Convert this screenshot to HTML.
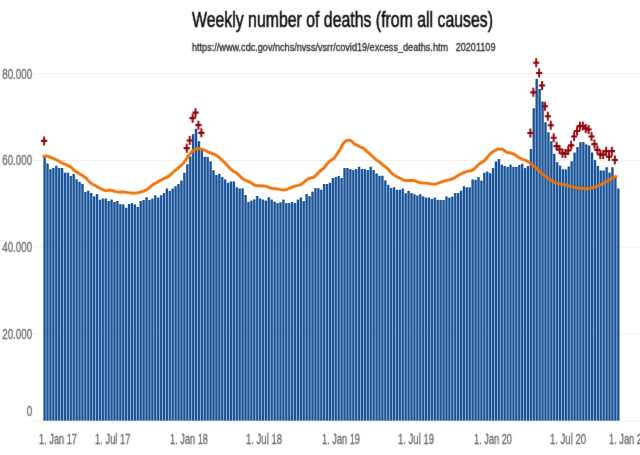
<!DOCTYPE html>
<html lang="en"><head><meta charset="utf-8"><title>Weekly number of deaths (from all causes)</title>
<style>
html,body{margin:0;padding:0;background:#fff;}
body{width:640px;height:455px;overflow:hidden;font-family:"Liberation Sans",sans-serif;}
svg{display:block;}
.ax{font-family:"Liberation Sans",sans-serif;font-size:15px;fill:#666;stroke:#666;stroke-width:0.3px;}
.ax2{font-family:"Liberation Sans",sans-serif;font-size:14.5px;fill:#666;stroke:#666;stroke-width:0.3px;}
.title{font-family:"Liberation Sans",sans-serif;font-size:22px;fill:#0a0a0a;stroke:#0a0a0a;stroke-width:0.55px;}
.sub{font-family:"Liberation Sans",sans-serif;font-size:11.5px;fill:#222;stroke:#222;stroke-width:0.3px;}
</style></head><body>
<svg width="640" height="455" viewBox="0 0 640 455">
<defs><filter id="soft" filterUnits="userSpaceOnUse" x="0" y="0" width="640" height="455" color-interpolation-filters="sRGB"><feConvolveMatrix order="3" kernelMatrix="1 8 1 8 64 8 1 8 1" divisor="100" edgeMode="duplicate" preserveAlpha="false"/></filter></defs>
<rect width="640" height="455" fill="#fff"/>
<g>

<line x1="34" x2="640" y1="73.7" y2="73.7" stroke="#f1f1f1" stroke-width="1"/>
<line x1="34" x2="640" y1="160.5" y2="160.5" stroke="#f1f1f1" stroke-width="1"/>
<line x1="34" x2="640" y1="247.2" y2="247.2" stroke="#f1f1f1" stroke-width="1"/>
<line x1="34" x2="640" y1="334.0" y2="334.0" stroke="#f1f1f1" stroke-width="1"/>
<line x1="34" x2="640" y1="420.8" y2="420.8" stroke="#f1f1f1" stroke-width="1"/>
<line x1="37" x2="37" y1="421" y2="425.5" stroke="#efefef" stroke-width="1"/>
<line x1="112.5" x2="112.5" y1="421" y2="425.5" stroke="#efefef" stroke-width="1"/>
<line x1="189" x2="189" y1="421" y2="425.5" stroke="#efefef" stroke-width="1"/>
<line x1="264.5" x2="264.5" y1="421" y2="425.5" stroke="#efefef" stroke-width="1"/>
<line x1="341" x2="341" y1="421" y2="425.5" stroke="#efefef" stroke-width="1"/>
<line x1="416.5" x2="416.5" y1="421" y2="425.5" stroke="#efefef" stroke-width="1"/>
<line x1="493" x2="493" y1="421" y2="425.5" stroke="#efefef" stroke-width="1"/>
<line x1="568.5" x2="568.5" y1="421" y2="425.5" stroke="#efefef" stroke-width="1"/>
<g filter="url(#soft)">
<text class="title" x="192" y="27" textLength="301" lengthAdjust="spacingAndGlyphs">Weekly number of deaths (from all causes)</text>
<text class="sub" x="192" y="51.2" textLength="303.5" lengthAdjust="spacingAndGlyphs" xml:space="preserve">https://www.cdc.gov/nchs/nvss/vsrr/covid19/excess_deaths.htm   20201109</text>
<text class="ax" x="2.200000000000003" y="78.6" textLength="30" lengthAdjust="spacingAndGlyphs">80.000</text>
<text class="ax" x="2.200000000000003" y="165.4" textLength="30" lengthAdjust="spacingAndGlyphs">60.000</text>
<text class="ax" x="2.200000000000003" y="252.1" textLength="30" lengthAdjust="spacingAndGlyphs">40.000</text>
<text class="ax" x="2.200000000000003" y="338.9" textLength="30" lengthAdjust="spacingAndGlyphs">20.000</text>
<text class="ax" x="26.700000000000003" y="416" textLength="5.5" lengthAdjust="spacingAndGlyphs">0</text>
<text class="ax2" x="39" y="444" textLength="38" lengthAdjust="spacingAndGlyphs">1. Jan 17</text>
<text class="ax2" x="95" y="444" textLength="35.5" lengthAdjust="spacingAndGlyphs">1. Jul 17</text>
<text class="ax2" x="170" y="444" textLength="38" lengthAdjust="spacingAndGlyphs">1. Jan 18</text>
<text class="ax2" x="246" y="444" textLength="36" lengthAdjust="spacingAndGlyphs">1. Jul 18</text>
<text class="ax2" x="322" y="444" textLength="38" lengthAdjust="spacingAndGlyphs">1. Jan 19</text>
<text class="ax2" x="398" y="444" textLength="36" lengthAdjust="spacingAndGlyphs">1. Jul 19</text>
<text class="ax2" x="474" y="444" textLength="38" lengthAdjust="spacingAndGlyphs">1. Jan 20</text>
<text class="ax2" x="550" y="444" textLength="36" lengthAdjust="spacingAndGlyphs">1. Jul 20</text>
<text class="ax2" x="609" y="444" textLength="38" lengthAdjust="spacingAndGlyphs">1. Jan 21</text>
</g>
<g fill="#1b5599" fill-opacity="0.4">
<rect x="43.14" y="157.20" width="2.912" height="263.40"/>
<rect x="46.06" y="163.80" width="2.912" height="256.80"/>
<rect x="48.97" y="169.55" width="2.912" height="251.05"/>
<rect x="51.88" y="168.30" width="2.912" height="252.30"/>
<rect x="54.79" y="166.05" width="2.912" height="254.55"/>
<rect x="57.70" y="168.30" width="2.912" height="252.30"/>
<rect x="60.62" y="168.30" width="2.912" height="252.30"/>
<rect x="63.53" y="172.90" width="2.912" height="247.70"/>
<rect x="66.44" y="172.90" width="2.912" height="247.70"/>
<rect x="69.35" y="176.30" width="2.912" height="244.30"/>
<rect x="72.26" y="174.20" width="2.912" height="246.40"/>
<rect x="75.18" y="179.55" width="2.912" height="241.05"/>
<rect x="78.09" y="182.05" width="2.912" height="238.55"/>
<rect x="81.00" y="184.20" width="2.912" height="236.40"/>
<rect x="83.91" y="192.30" width="2.912" height="228.30"/>
<rect x="86.82" y="191.05" width="2.912" height="229.55"/>
<rect x="89.74" y="193.30" width="2.912" height="227.30"/>
<rect x="92.65" y="196.70" width="2.912" height="223.90"/>
<rect x="95.56" y="194.40" width="2.912" height="226.20"/>
<rect x="98.47" y="200.05" width="2.912" height="220.55"/>
<rect x="101.38" y="198.80" width="2.912" height="221.80"/>
<rect x="104.30" y="198.80" width="2.912" height="221.80"/>
<rect x="107.21" y="201.30" width="2.912" height="219.30"/>
<rect x="110.12" y="199.80" width="2.912" height="220.80"/>
<rect x="113.03" y="202.30" width="2.912" height="218.30"/>
<rect x="115.94" y="201.30" width="2.912" height="219.30"/>
<rect x="118.86" y="204.50" width="2.912" height="216.10"/>
<rect x="121.77" y="204.70" width="2.912" height="215.90"/>
<rect x="124.68" y="208.05" width="2.912" height="212.55"/>
<rect x="127.59" y="204.30" width="2.912" height="216.30"/>
<rect x="130.50" y="203.40" width="2.912" height="217.20"/>
<rect x="133.42" y="204.70" width="2.912" height="215.90"/>
<rect x="136.33" y="207.20" width="2.912" height="213.40"/>
<rect x="139.24" y="201.30" width="2.912" height="219.30"/>
<rect x="142.15" y="200.30" width="2.912" height="220.30"/>
<rect x="145.06" y="197.55" width="2.912" height="223.05"/>
<rect x="147.98" y="200.30" width="2.912" height="220.30"/>
<rect x="150.89" y="198.80" width="2.912" height="221.80"/>
<rect x="153.80" y="195.55" width="2.912" height="225.05"/>
<rect x="156.71" y="197.80" width="2.912" height="222.80"/>
<rect x="159.62" y="195.55" width="2.912" height="225.05"/>
<rect x="162.54" y="193.40" width="2.912" height="227.20"/>
<rect x="165.45" y="188.80" width="2.912" height="231.80"/>
<rect x="168.36" y="191.30" width="2.912" height="229.30"/>
<rect x="171.27" y="188.80" width="2.912" height="231.80"/>
<rect x="174.18" y="186.55" width="2.912" height="234.05"/>
<rect x="177.10" y="184.30" width="2.912" height="236.30"/>
<rect x="180.01" y="180.90" width="2.912" height="239.70"/>
<rect x="182.92" y="173.05" width="2.912" height="247.55"/>
<rect x="185.83" y="164.50" width="2.912" height="256.10"/>
<rect x="188.74" y="156.80" width="2.912" height="263.80"/>
<rect x="191.66" y="134.50" width="2.912" height="286.10"/>
<rect x="194.57" y="129.00" width="2.912" height="291.60"/>
<rect x="197.48" y="141.50" width="2.912" height="279.10"/>
<rect x="200.39" y="149.10" width="2.912" height="271.50"/>
<rect x="203.30" y="157.10" width="2.912" height="263.50"/>
<rect x="206.22" y="157.10" width="2.912" height="263.50"/>
<rect x="209.13" y="161.60" width="2.912" height="259.00"/>
<rect x="212.04" y="170.55" width="2.912" height="250.05"/>
<rect x="214.95" y="175.30" width="2.912" height="245.30"/>
<rect x="217.86" y="174.05" width="2.912" height="246.55"/>
<rect x="220.78" y="177.40" width="2.912" height="243.20"/>
<rect x="223.69" y="179.70" width="2.912" height="240.90"/>
<rect x="226.60" y="183.05" width="2.912" height="237.55"/>
<rect x="229.51" y="181.80" width="2.912" height="238.80"/>
<rect x="232.42" y="181.80" width="2.912" height="238.80"/>
<rect x="235.34" y="187.55" width="2.912" height="233.05"/>
<rect x="238.25" y="188.70" width="2.912" height="231.90"/>
<rect x="241.16" y="188.70" width="2.912" height="231.90"/>
<rect x="244.07" y="195.30" width="2.912" height="225.30"/>
<rect x="246.98" y="202.20" width="2.912" height="218.40"/>
<rect x="249.90" y="200.90" width="2.912" height="219.70"/>
<rect x="252.81" y="199.70" width="2.912" height="220.90"/>
<rect x="255.72" y="196.30" width="2.912" height="224.30"/>
<rect x="258.63" y="198.80" width="2.912" height="221.80"/>
<rect x="261.54" y="199.90" width="2.912" height="220.70"/>
<rect x="264.46" y="200.90" width="2.912" height="219.70"/>
<rect x="267.37" y="197.55" width="2.912" height="223.05"/>
<rect x="270.28" y="199.90" width="2.912" height="220.70"/>
<rect x="273.19" y="201.90" width="2.912" height="218.70"/>
<rect x="276.10" y="203.40" width="2.912" height="217.20"/>
<rect x="279.02" y="202.55" width="2.912" height="218.05"/>
<rect x="281.93" y="199.90" width="2.912" height="220.70"/>
<rect x="284.84" y="203.40" width="2.912" height="217.20"/>
<rect x="287.75" y="203.40" width="2.912" height="217.20"/>
<rect x="290.66" y="202.20" width="2.912" height="218.40"/>
<rect x="293.58" y="203.40" width="2.912" height="217.20"/>
<rect x="296.49" y="199.90" width="2.912" height="220.70"/>
<rect x="299.40" y="197.80" width="2.912" height="222.80"/>
<rect x="302.31" y="201.30" width="2.912" height="219.30"/>
<rect x="305.22" y="194.30" width="2.912" height="226.30"/>
<rect x="308.14" y="196.55" width="2.912" height="224.05"/>
<rect x="311.05" y="191.90" width="2.912" height="228.70"/>
<rect x="313.96" y="188.40" width="2.912" height="232.20"/>
<rect x="316.87" y="188.40" width="2.912" height="232.20"/>
<rect x="319.78" y="190.05" width="2.912" height="230.55"/>
<rect x="322.70" y="184.30" width="2.912" height="236.30"/>
<rect x="325.61" y="184.30" width="2.912" height="236.30"/>
<rect x="328.52" y="183.00" width="2.912" height="237.60"/>
<rect x="331.43" y="178.30" width="2.912" height="242.30"/>
<rect x="334.34" y="177.40" width="2.912" height="243.20"/>
<rect x="337.26" y="176.20" width="2.912" height="244.40"/>
<rect x="340.17" y="178.30" width="2.912" height="242.30"/>
<rect x="343.08" y="168.30" width="2.912" height="252.30"/>
<rect x="345.99" y="168.30" width="2.912" height="252.30"/>
<rect x="348.90" y="169.40" width="2.912" height="251.20"/>
<rect x="351.82" y="170.40" width="2.912" height="250.20"/>
<rect x="354.73" y="169.40" width="2.912" height="251.20"/>
<rect x="357.64" y="167.05" width="2.912" height="253.55"/>
<rect x="360.55" y="169.40" width="2.912" height="251.20"/>
<rect x="363.46" y="169.40" width="2.912" height="251.20"/>
<rect x="366.38" y="170.40" width="2.912" height="250.20"/>
<rect x="369.29" y="167.05" width="2.912" height="253.55"/>
<rect x="372.20" y="170.40" width="2.912" height="250.20"/>
<rect x="375.11" y="173.80" width="2.912" height="246.80"/>
<rect x="378.02" y="176.05" width="2.912" height="244.55"/>
<rect x="380.94" y="176.05" width="2.912" height="244.55"/>
<rect x="383.85" y="180.70" width="2.912" height="239.90"/>
<rect x="386.76" y="185.05" width="2.912" height="235.55"/>
<rect x="389.67" y="188.30" width="2.912" height="232.30"/>
<rect x="392.58" y="187.60" width="2.912" height="233.00"/>
<rect x="395.50" y="190.05" width="2.912" height="230.55"/>
<rect x="398.41" y="190.05" width="2.912" height="230.55"/>
<rect x="401.32" y="188.80" width="2.912" height="231.80"/>
<rect x="404.23" y="193.55" width="2.912" height="227.05"/>
<rect x="407.14" y="191.05" width="2.912" height="229.55"/>
<rect x="410.06" y="193.30" width="2.912" height="227.30"/>
<rect x="412.97" y="194.55" width="2.912" height="226.05"/>
<rect x="415.88" y="195.80" width="2.912" height="224.80"/>
<rect x="418.79" y="194.55" width="2.912" height="226.05"/>
<rect x="421.70" y="196.70" width="2.912" height="223.90"/>
<rect x="424.62" y="197.90" width="2.912" height="222.70"/>
<rect x="427.53" y="197.90" width="2.912" height="222.70"/>
<rect x="430.44" y="199.20" width="2.912" height="221.40"/>
<rect x="433.35" y="197.90" width="2.912" height="222.70"/>
<rect x="436.26" y="200.20" width="2.912" height="220.40"/>
<rect x="439.18" y="200.20" width="2.912" height="220.40"/>
<rect x="442.09" y="200.20" width="2.912" height="220.40"/>
<rect x="445.00" y="196.70" width="2.912" height="223.90"/>
<rect x="447.91" y="197.90" width="2.912" height="222.70"/>
<rect x="450.82" y="196.90" width="2.912" height="223.70"/>
<rect x="453.74" y="193.30" width="2.912" height="227.30"/>
<rect x="456.65" y="193.30" width="2.912" height="227.30"/>
<rect x="459.56" y="191.00" width="2.912" height="229.60"/>
<rect x="462.47" y="186.60" width="2.912" height="234.00"/>
<rect x="465.38" y="187.60" width="2.912" height="233.00"/>
<rect x="468.30" y="187.60" width="2.912" height="233.00"/>
<rect x="471.21" y="179.70" width="2.912" height="240.90"/>
<rect x="474.12" y="180.05" width="2.912" height="240.55"/>
<rect x="477.03" y="177.40" width="2.912" height="243.20"/>
<rect x="479.94" y="180.90" width="2.912" height="239.70"/>
<rect x="482.86" y="173.05" width="2.912" height="247.55"/>
<rect x="485.77" y="171.80" width="2.912" height="248.80"/>
<rect x="488.68" y="173.40" width="2.912" height="247.20"/>
<rect x="491.59" y="168.40" width="2.912" height="252.20"/>
<rect x="494.50" y="161.80" width="2.912" height="258.80"/>
<rect x="497.42" y="159.40" width="2.912" height="261.20"/>
<rect x="500.33" y="164.90" width="2.912" height="255.70"/>
<rect x="503.24" y="166.30" width="2.912" height="254.30"/>
<rect x="506.15" y="167.20" width="2.912" height="253.40"/>
<rect x="509.06" y="164.90" width="2.912" height="255.70"/>
<rect x="511.98" y="167.20" width="2.912" height="253.40"/>
<rect x="514.89" y="167.20" width="2.912" height="253.40"/>
<rect x="517.80" y="165.30" width="2.912" height="255.30"/>
<rect x="520.71" y="164.05" width="2.912" height="256.55"/>
<rect x="523.62" y="168.40" width="2.912" height="252.20"/>
<rect x="526.54" y="166.20" width="2.912" height="254.40"/>
<rect x="529.45" y="149.30" width="2.912" height="271.30"/>
<rect x="532.36" y="108.60" width="2.912" height="312.00"/>
<rect x="535.27" y="79.05" width="2.912" height="341.55"/>
<rect x="538.18" y="89.30" width="2.912" height="331.30"/>
<rect x="541.10" y="101.80" width="2.912" height="318.80"/>
<rect x="544.01" y="122.55" width="2.912" height="298.05"/>
<rect x="546.92" y="132.55" width="2.912" height="288.05"/>
<rect x="549.83" y="141.55" width="2.912" height="279.05"/>
<rect x="552.74" y="154.05" width="2.912" height="266.55"/>
<rect x="555.66" y="162.50" width="2.912" height="258.10"/>
<rect x="558.57" y="165.80" width="2.912" height="254.80"/>
<rect x="561.48" y="169.60" width="2.912" height="251.00"/>
<rect x="564.39" y="169.80" width="2.912" height="250.80"/>
<rect x="567.30" y="166.80" width="2.912" height="253.80"/>
<rect x="570.22" y="161.60" width="2.912" height="259.00"/>
<rect x="573.13" y="152.80" width="2.912" height="267.80"/>
<rect x="576.04" y="147.30" width="2.912" height="273.30"/>
<rect x="578.95" y="142.50" width="2.912" height="278.10"/>
<rect x="581.86" y="142.30" width="2.912" height="278.30"/>
<rect x="584.78" y="144.70" width="2.912" height="275.90"/>
<rect x="587.69" y="145.80" width="2.912" height="274.80"/>
<rect x="590.60" y="152.80" width="2.912" height="267.80"/>
<rect x="593.51" y="160.40" width="2.912" height="260.20"/>
<rect x="596.42" y="166.20" width="2.912" height="254.40"/>
<rect x="599.34" y="170.80" width="2.912" height="249.80"/>
<rect x="602.25" y="170.80" width="2.912" height="249.80"/>
<rect x="605.16" y="167.50" width="2.912" height="253.10"/>
<rect x="608.07" y="172.90" width="2.912" height="247.70"/>
<rect x="610.98" y="167.50" width="2.912" height="253.10"/>
<rect x="613.90" y="176.30" width="2.912" height="244.30"/>
<rect x="616.81" y="188.70" width="2.912" height="231.90"/>
</g>
<g fill="#1b5599">
<rect x="43.55" y="156.90" width="2.1" height="263.70"/>
<rect x="46.46" y="163.50" width="2.1" height="257.10"/>
<rect x="49.37" y="169.25" width="2.1" height="251.35"/>
<rect x="52.29" y="168.00" width="2.1" height="252.60"/>
<rect x="55.20" y="165.75" width="2.1" height="254.85"/>
<rect x="58.11" y="168.00" width="2.1" height="252.60"/>
<rect x="61.02" y="168.00" width="2.1" height="252.60"/>
<rect x="63.93" y="172.60" width="2.1" height="248.00"/>
<rect x="66.85" y="172.60" width="2.1" height="248.00"/>
<rect x="69.76" y="176.00" width="2.1" height="244.60"/>
<rect x="72.67" y="173.90" width="2.1" height="246.70"/>
<rect x="75.58" y="179.25" width="2.1" height="241.35"/>
<rect x="78.49" y="181.75" width="2.1" height="238.85"/>
<rect x="81.41" y="183.90" width="2.1" height="236.70"/>
<rect x="84.32" y="192.00" width="2.1" height="228.60"/>
<rect x="87.23" y="190.75" width="2.1" height="229.85"/>
<rect x="90.14" y="193.00" width="2.1" height="227.60"/>
<rect x="93.05" y="196.40" width="2.1" height="224.20"/>
<rect x="95.97" y="194.10" width="2.1" height="226.50"/>
<rect x="98.88" y="199.75" width="2.1" height="220.85"/>
<rect x="101.79" y="198.50" width="2.1" height="222.10"/>
<rect x="104.70" y="198.50" width="2.1" height="222.10"/>
<rect x="107.61" y="201.00" width="2.1" height="219.60"/>
<rect x="110.53" y="199.50" width="2.1" height="221.10"/>
<rect x="113.44" y="202.00" width="2.1" height="218.60"/>
<rect x="116.35" y="201.00" width="2.1" height="219.60"/>
<rect x="119.26" y="204.20" width="2.1" height="216.40"/>
<rect x="122.17" y="204.40" width="2.1" height="216.20"/>
<rect x="125.09" y="207.75" width="2.1" height="212.85"/>
<rect x="128.00" y="204.00" width="2.1" height="216.60"/>
<rect x="130.91" y="203.10" width="2.1" height="217.50"/>
<rect x="133.82" y="204.40" width="2.1" height="216.20"/>
<rect x="136.73" y="206.90" width="2.1" height="213.70"/>
<rect x="139.65" y="201.00" width="2.1" height="219.60"/>
<rect x="142.56" y="200.00" width="2.1" height="220.60"/>
<rect x="145.47" y="197.25" width="2.1" height="223.35"/>
<rect x="148.38" y="200.00" width="2.1" height="220.60"/>
<rect x="151.29" y="198.50" width="2.1" height="222.10"/>
<rect x="154.21" y="195.25" width="2.1" height="225.35"/>
<rect x="157.12" y="197.50" width="2.1" height="223.10"/>
<rect x="160.03" y="195.25" width="2.1" height="225.35"/>
<rect x="162.94" y="193.10" width="2.1" height="227.50"/>
<rect x="165.85" y="188.50" width="2.1" height="232.10"/>
<rect x="168.77" y="191.00" width="2.1" height="229.60"/>
<rect x="171.68" y="188.50" width="2.1" height="232.10"/>
<rect x="174.59" y="186.25" width="2.1" height="234.35"/>
<rect x="177.50" y="184.00" width="2.1" height="236.60"/>
<rect x="180.41" y="180.60" width="2.1" height="240.00"/>
<rect x="183.33" y="172.75" width="2.1" height="247.85"/>
<rect x="186.24" y="164.20" width="2.1" height="256.40"/>
<rect x="189.15" y="156.50" width="2.1" height="264.10"/>
<rect x="192.06" y="134.20" width="2.1" height="286.40"/>
<rect x="194.97" y="128.70" width="2.1" height="291.90"/>
<rect x="197.89" y="141.20" width="2.1" height="279.40"/>
<rect x="200.80" y="148.80" width="2.1" height="271.80"/>
<rect x="203.71" y="156.80" width="2.1" height="263.80"/>
<rect x="206.62" y="156.80" width="2.1" height="263.80"/>
<rect x="209.53" y="161.30" width="2.1" height="259.30"/>
<rect x="212.45" y="170.25" width="2.1" height="250.35"/>
<rect x="215.36" y="175.00" width="2.1" height="245.60"/>
<rect x="218.27" y="173.75" width="2.1" height="246.85"/>
<rect x="221.18" y="177.10" width="2.1" height="243.50"/>
<rect x="224.09" y="179.40" width="2.1" height="241.20"/>
<rect x="227.01" y="182.75" width="2.1" height="237.85"/>
<rect x="229.92" y="181.50" width="2.1" height="239.10"/>
<rect x="232.83" y="181.50" width="2.1" height="239.10"/>
<rect x="235.74" y="187.25" width="2.1" height="233.35"/>
<rect x="238.65" y="188.40" width="2.1" height="232.20"/>
<rect x="241.57" y="188.40" width="2.1" height="232.20"/>
<rect x="244.48" y="195.00" width="2.1" height="225.60"/>
<rect x="247.39" y="201.90" width="2.1" height="218.70"/>
<rect x="250.30" y="200.60" width="2.1" height="220.00"/>
<rect x="253.21" y="199.40" width="2.1" height="221.20"/>
<rect x="256.13" y="196.00" width="2.1" height="224.60"/>
<rect x="259.04" y="198.50" width="2.1" height="222.10"/>
<rect x="261.95" y="199.60" width="2.1" height="221.00"/>
<rect x="264.86" y="200.60" width="2.1" height="220.00"/>
<rect x="267.77" y="197.25" width="2.1" height="223.35"/>
<rect x="270.69" y="199.60" width="2.1" height="221.00"/>
<rect x="273.60" y="201.60" width="2.1" height="219.00"/>
<rect x="276.51" y="203.10" width="2.1" height="217.50"/>
<rect x="279.42" y="202.25" width="2.1" height="218.35"/>
<rect x="282.33" y="199.60" width="2.1" height="221.00"/>
<rect x="285.25" y="203.10" width="2.1" height="217.50"/>
<rect x="288.16" y="203.10" width="2.1" height="217.50"/>
<rect x="291.07" y="201.90" width="2.1" height="218.70"/>
<rect x="293.98" y="203.10" width="2.1" height="217.50"/>
<rect x="296.89" y="199.60" width="2.1" height="221.00"/>
<rect x="299.81" y="197.50" width="2.1" height="223.10"/>
<rect x="302.72" y="201.00" width="2.1" height="219.60"/>
<rect x="305.63" y="194.00" width="2.1" height="226.60"/>
<rect x="308.54" y="196.25" width="2.1" height="224.35"/>
<rect x="311.45" y="191.60" width="2.1" height="229.00"/>
<rect x="314.37" y="188.10" width="2.1" height="232.50"/>
<rect x="317.28" y="188.10" width="2.1" height="232.50"/>
<rect x="320.19" y="189.75" width="2.1" height="230.85"/>
<rect x="323.10" y="184.00" width="2.1" height="236.60"/>
<rect x="326.01" y="184.00" width="2.1" height="236.60"/>
<rect x="328.93" y="182.70" width="2.1" height="237.90"/>
<rect x="331.84" y="178.00" width="2.1" height="242.60"/>
<rect x="334.75" y="177.10" width="2.1" height="243.50"/>
<rect x="337.66" y="175.90" width="2.1" height="244.70"/>
<rect x="340.57" y="178.00" width="2.1" height="242.60"/>
<rect x="343.49" y="168.00" width="2.1" height="252.60"/>
<rect x="346.40" y="168.00" width="2.1" height="252.60"/>
<rect x="349.31" y="169.10" width="2.1" height="251.50"/>
<rect x="352.22" y="170.10" width="2.1" height="250.50"/>
<rect x="355.13" y="169.10" width="2.1" height="251.50"/>
<rect x="358.05" y="166.75" width="2.1" height="253.85"/>
<rect x="360.96" y="169.10" width="2.1" height="251.50"/>
<rect x="363.87" y="169.10" width="2.1" height="251.50"/>
<rect x="366.78" y="170.10" width="2.1" height="250.50"/>
<rect x="369.69" y="166.75" width="2.1" height="253.85"/>
<rect x="372.61" y="170.10" width="2.1" height="250.50"/>
<rect x="375.52" y="173.50" width="2.1" height="247.10"/>
<rect x="378.43" y="175.75" width="2.1" height="244.85"/>
<rect x="381.34" y="175.75" width="2.1" height="244.85"/>
<rect x="384.25" y="180.40" width="2.1" height="240.20"/>
<rect x="387.17" y="184.75" width="2.1" height="235.85"/>
<rect x="390.08" y="188.00" width="2.1" height="232.60"/>
<rect x="392.99" y="187.30" width="2.1" height="233.30"/>
<rect x="395.90" y="189.75" width="2.1" height="230.85"/>
<rect x="398.81" y="189.75" width="2.1" height="230.85"/>
<rect x="401.73" y="188.50" width="2.1" height="232.10"/>
<rect x="404.64" y="193.25" width="2.1" height="227.35"/>
<rect x="407.55" y="190.75" width="2.1" height="229.85"/>
<rect x="410.46" y="193.00" width="2.1" height="227.60"/>
<rect x="413.37" y="194.25" width="2.1" height="226.35"/>
<rect x="416.29" y="195.50" width="2.1" height="225.10"/>
<rect x="419.20" y="194.25" width="2.1" height="226.35"/>
<rect x="422.11" y="196.40" width="2.1" height="224.20"/>
<rect x="425.02" y="197.60" width="2.1" height="223.00"/>
<rect x="427.93" y="197.60" width="2.1" height="223.00"/>
<rect x="430.85" y="198.90" width="2.1" height="221.70"/>
<rect x="433.76" y="197.60" width="2.1" height="223.00"/>
<rect x="436.67" y="199.90" width="2.1" height="220.70"/>
<rect x="439.58" y="199.90" width="2.1" height="220.70"/>
<rect x="442.49" y="199.90" width="2.1" height="220.70"/>
<rect x="445.41" y="196.40" width="2.1" height="224.20"/>
<rect x="448.32" y="197.60" width="2.1" height="223.00"/>
<rect x="451.23" y="196.60" width="2.1" height="224.00"/>
<rect x="454.14" y="193.00" width="2.1" height="227.60"/>
<rect x="457.05" y="193.00" width="2.1" height="227.60"/>
<rect x="459.97" y="190.70" width="2.1" height="229.90"/>
<rect x="462.88" y="186.30" width="2.1" height="234.30"/>
<rect x="465.79" y="187.30" width="2.1" height="233.30"/>
<rect x="468.70" y="187.30" width="2.1" height="233.30"/>
<rect x="471.61" y="179.40" width="2.1" height="241.20"/>
<rect x="474.53" y="179.75" width="2.1" height="240.85"/>
<rect x="477.44" y="177.10" width="2.1" height="243.50"/>
<rect x="480.35" y="180.60" width="2.1" height="240.00"/>
<rect x="483.26" y="172.75" width="2.1" height="247.85"/>
<rect x="486.17" y="171.50" width="2.1" height="249.10"/>
<rect x="489.09" y="173.10" width="2.1" height="247.50"/>
<rect x="492.00" y="168.10" width="2.1" height="252.50"/>
<rect x="494.91" y="161.50" width="2.1" height="259.10"/>
<rect x="497.82" y="159.10" width="2.1" height="261.50"/>
<rect x="500.73" y="164.60" width="2.1" height="256.00"/>
<rect x="503.65" y="166.00" width="2.1" height="254.60"/>
<rect x="506.56" y="166.90" width="2.1" height="253.70"/>
<rect x="509.47" y="164.60" width="2.1" height="256.00"/>
<rect x="512.38" y="166.90" width="2.1" height="253.70"/>
<rect x="515.29" y="166.90" width="2.1" height="253.70"/>
<rect x="518.21" y="165.00" width="2.1" height="255.60"/>
<rect x="521.12" y="163.75" width="2.1" height="256.85"/>
<rect x="524.03" y="168.10" width="2.1" height="252.50"/>
<rect x="526.94" y="165.90" width="2.1" height="254.70"/>
<rect x="529.85" y="149.00" width="2.1" height="271.60"/>
<rect x="532.77" y="108.30" width="2.1" height="312.30"/>
<rect x="535.68" y="78.75" width="2.1" height="341.85"/>
<rect x="538.59" y="89.00" width="2.1" height="331.60"/>
<rect x="541.50" y="101.50" width="2.1" height="319.10"/>
<rect x="544.41" y="122.25" width="2.1" height="298.35"/>
<rect x="547.33" y="132.25" width="2.1" height="288.35"/>
<rect x="550.24" y="141.25" width="2.1" height="279.35"/>
<rect x="553.15" y="153.75" width="2.1" height="266.85"/>
<rect x="556.06" y="162.20" width="2.1" height="258.40"/>
<rect x="558.97" y="165.50" width="2.1" height="255.10"/>
<rect x="561.89" y="169.30" width="2.1" height="251.30"/>
<rect x="564.80" y="169.50" width="2.1" height="251.10"/>
<rect x="567.71" y="166.50" width="2.1" height="254.10"/>
<rect x="570.62" y="161.30" width="2.1" height="259.30"/>
<rect x="573.53" y="152.50" width="2.1" height="268.10"/>
<rect x="576.45" y="147.00" width="2.1" height="273.60"/>
<rect x="579.36" y="142.20" width="2.1" height="278.40"/>
<rect x="582.27" y="142.00" width="2.1" height="278.60"/>
<rect x="585.18" y="144.40" width="2.1" height="276.20"/>
<rect x="588.09" y="145.50" width="2.1" height="275.10"/>
<rect x="591.01" y="152.50" width="2.1" height="268.10"/>
<rect x="593.92" y="160.10" width="2.1" height="260.50"/>
<rect x="596.83" y="165.90" width="2.1" height="254.70"/>
<rect x="599.74" y="170.50" width="2.1" height="250.10"/>
<rect x="602.65" y="170.50" width="2.1" height="250.10"/>
<rect x="605.57" y="167.20" width="2.1" height="253.40"/>
<rect x="608.48" y="172.60" width="2.1" height="248.00"/>
<rect x="611.39" y="167.20" width="2.1" height="253.40"/>
<rect x="614.30" y="176.00" width="2.1" height="244.60"/>
<rect x="617.21" y="188.40" width="2.1" height="232.20"/>
</g>
<g filter="url(#soft)">
<path d="M43.70 156.67 L45.16 156.18 L46.61 156.00 L48.07 156.37 L49.52 156.96 L50.98 157.55 L52.44 158.11 L53.89 158.68 L55.35 159.32 L56.80 160.04 L58.26 160.85 L59.72 161.71 L61.17 162.52 L62.63 163.24 L64.08 163.86 L65.54 164.44 L67.00 165.05 L68.45 165.71 L69.91 166.49 L71.36 167.57 L72.82 168.96 L74.28 170.32 L75.73 171.40 L77.19 172.32 L78.64 173.21 L80.10 174.11 L81.56 175.02 L83.01 175.98 L84.47 177.01 L85.92 178.14 L87.38 179.52 L88.84 181.16 L90.29 182.67 L91.75 183.75 L93.20 184.56 L94.66 185.33 L96.12 186.14 L97.57 186.97 L99.03 187.75 L100.48 188.50 L101.94 189.25 L103.40 189.95 L104.85 190.46 L106.31 190.64 L107.76 190.49 L109.22 190.25 L110.68 190.25 L112.13 190.56 L113.59 191.00 L115.04 191.37 L116.50 191.64 L117.96 191.84 L119.41 191.96 L120.87 191.97 L122.32 191.94 L123.78 191.96 L125.24 192.14 L126.69 192.42 L128.15 192.68 L129.60 192.84 L131.06 192.95 L132.52 193.03 L133.97 193.08 L135.43 193.04 L136.88 192.87 L138.34 192.58 L139.80 192.22 L141.25 191.82 L142.71 191.36 L144.16 190.81 L145.62 190.15 L147.08 189.33 L148.53 188.34 L149.99 187.21 L151.44 185.97 L152.90 184.72 L154.36 183.73 L155.81 182.96 L157.27 182.19 L158.72 181.35 L160.18 180.50 L161.64 179.70 L163.09 178.98 L164.55 178.29 L166.00 177.60 L167.46 176.88 L168.92 176.06 L170.37 174.97 L171.83 173.56 L173.28 172.05 L174.74 170.70 L176.20 169.56 L177.65 168.44 L179.11 167.21 L180.56 165.85 L182.02 164.45 L183.48 162.98 L184.93 161.21 L186.39 158.97 L187.84 156.64 L189.30 154.65 L190.76 153.01 L192.21 151.62 L193.67 150.40 L195.12 149.30 L196.58 148.59 L198.04 148.48 L199.49 148.74 L200.95 149.07 L202.40 149.43 L203.86 149.87 L205.32 150.47 L206.77 151.21 L208.23 151.92 L209.68 152.55 L211.14 153.12 L212.60 153.66 L214.05 154.20 L215.51 154.83 L216.96 155.72 L218.42 156.88 L219.88 158.16 L221.33 159.43 L222.79 160.73 L224.24 162.12 L225.70 163.62 L227.16 165.19 L228.61 166.81 L230.07 168.44 L231.52 169.89 L232.98 170.95 L234.44 171.72 L235.89 172.53 L237.35 173.64 L238.80 175.04 L240.26 176.55 L241.72 177.97 L243.17 179.10 L244.63 179.91 L246.08 180.50 L247.54 181.03 L249.00 181.61 L250.45 182.36 L251.91 183.33 L253.36 184.35 L254.82 185.14 L256.28 185.56 L257.73 185.71 L259.19 185.77 L260.64 185.81 L262.10 185.86 L263.56 185.93 L265.01 186.09 L266.47 186.45 L267.92 186.99 L269.38 187.56 L270.84 188.01 L272.29 188.31 L273.75 188.52 L275.20 188.70 L276.66 188.89 L278.12 189.12 L279.57 189.40 L281.03 189.68 L282.48 189.89 L283.94 189.93 L285.40 189.73 L286.85 189.31 L288.31 188.76 L289.76 188.18 L291.22 187.57 L292.68 186.93 L294.13 186.34 L295.59 185.90 L297.04 185.60 L298.50 185.33 L299.96 184.91 L301.41 184.15 L302.87 183.05 L304.32 181.82 L305.78 180.59 L307.24 179.43 L308.69 178.55 L310.15 178.06 L311.60 177.76 L313.06 177.39 L314.52 176.67 L315.97 175.42 L317.43 173.80 L318.88 172.17 L320.34 170.84 L321.80 169.79 L323.25 168.71 L324.71 167.18 L326.16 165.20 L327.62 163.27 L329.08 161.74 L330.53 160.59 L331.99 159.76 L333.44 158.81 L334.90 157.19 L336.36 155.03 L337.81 152.88 L339.27 150.75 L340.72 148.24 L342.18 145.47 L343.64 143.04 L345.09 141.38 L346.55 140.55 L348.00 140.26 L349.46 140.20 L350.92 140.59 L352.37 141.90 L353.83 143.54 L355.28 144.51 L356.74 145.03 L358.20 145.84 L359.65 146.75 L361.11 147.31 L362.56 147.80 L364.02 148.77 L365.48 150.17 L366.93 151.49 L368.39 152.63 L369.84 153.86 L371.30 155.24 L372.76 156.65 L374.21 157.99 L375.67 159.23 L377.12 160.33 L378.58 161.36 L380.04 162.46 L381.49 163.71 L382.95 165.00 L384.40 166.17 L385.86 167.20 L387.32 168.30 L388.77 169.76 L390.23 171.49 L391.68 173.12 L393.14 174.39 L394.60 175.40 L396.05 176.27 L397.51 177.03 L398.96 177.75 L400.42 178.51 L401.88 179.29 L403.33 179.93 L404.79 180.35 L406.24 180.57 L407.70 180.61 L409.16 180.53 L410.61 180.43 L412.07 180.35 L413.52 180.44 L414.98 180.82 L416.44 181.37 L417.89 181.90 L419.35 182.38 L420.80 182.76 L422.26 182.99 L423.72 183.09 L425.17 183.15 L426.63 183.21 L428.08 183.35 L429.54 183.58 L431.00 183.87 L432.45 184.11 L433.91 184.18 L435.36 184.01 L436.82 183.65 L438.28 183.18 L439.73 182.69 L441.19 182.21 L442.64 181.71 L444.10 181.21 L445.56 180.73 L447.01 180.31 L448.47 179.96 L449.92 179.62 L451.38 179.23 L452.84 178.71 L454.29 177.98 L455.75 177.07 L457.20 176.10 L458.66 175.17 L460.12 174.29 L461.57 173.49 L463.03 172.82 L464.48 172.28 L465.94 171.83 L467.40 171.42 L468.85 171.06 L470.31 170.76 L471.76 170.40 L473.22 169.67 L474.68 168.51 L476.13 167.10 L477.59 165.59 L479.04 164.16 L480.50 163.09 L481.96 162.33 L483.41 161.52 L484.87 160.25 L486.32 158.52 L487.78 156.66 L489.24 154.89 L490.69 153.33 L492.15 152.16 L493.60 151.32 L495.06 150.48 L496.52 149.63 L497.97 149.18 L499.43 149.10 L500.88 149.10 L502.34 149.28 L503.80 150.07 L505.25 151.27 L506.71 152.13 L508.16 152.56 L509.62 152.80 L511.08 153.03 L512.53 153.47 L513.99 154.20 L515.44 155.17 L516.90 156.24 L518.36 157.21 L519.81 157.99 L521.27 158.67 L522.72 159.29 L524.18 159.86 L525.64 160.43 L527.09 161.09 L528.55 161.94 L530.00 162.98 L531.46 164.15 L532.92 165.35 L534.37 166.58 L535.83 167.87 L537.28 169.22 L538.74 170.64 L540.20 172.04 L541.65 173.33 L543.11 174.52 L544.56 175.66 L546.02 176.75 L547.48 177.79 L548.93 178.79 L550.39 179.76 L551.84 180.71 L553.30 181.60 L554.76 182.35 L556.21 182.93 L557.67 183.40 L559.12 183.79 L560.58 184.09 L562.04 184.31 L563.49 184.52 L564.95 184.77 L566.40 185.11 L567.86 185.53 L569.32 186.00 L570.77 186.44 L572.23 186.82 L573.68 187.13 L575.14 187.39 L576.60 187.64 L578.05 187.85 L579.51 188.04 L580.96 188.21 L582.42 188.38 L583.88 188.53 L585.33 188.66 L586.79 188.72 L588.24 188.66 L589.70 188.43 L591.16 188.05 L592.61 187.61 L594.07 187.15 L595.52 186.69 L596.98 186.18 L598.44 185.63 L599.89 185.03 L601.35 184.38 L602.80 183.66 L604.26 182.89 L605.72 182.06 L607.17 181.17 L608.63 180.25 L610.08 179.37 L611.54 178.55 L613.00 177.76 L614.45 177.01 L615.91 176.47" fill="none" stroke="#f07108" stroke-width="2.9" stroke-linecap="round" stroke-linejoin="round"/>
<g fill="#8c0008">
<path d="M41.00 139.80h6.2v2.2h-6.2zM43.15 136.40h1.9v9h-1.9z"/>
<path d="M183.69 147.10h6.2v2.2h-6.2zM185.84 143.70h1.9v9h-1.9z"/>
<path d="M186.60 139.40h6.2v2.2h-6.2zM188.75 136.00h1.9v9h-1.9z"/>
<path d="M189.51 117.10h6.2v2.2h-6.2zM191.66 113.70h1.9v9h-1.9z"/>
<path d="M192.42 111.60h6.2v2.2h-6.2zM194.57 108.20h1.9v9h-1.9z"/>
<path d="M195.34 124.10h6.2v2.2h-6.2zM197.49 120.70h1.9v9h-1.9z"/>
<path d="M198.25 131.70h6.2v2.2h-6.2zM200.40 128.30h1.9v9h-1.9z"/>
<path d="M527.30 131.90h6.2v2.2h-6.2zM529.45 128.50h1.9v9h-1.9z"/>
<path d="M530.22 91.20h6.2v2.2h-6.2zM532.37 87.80h1.9v9h-1.9z"/>
<path d="M533.13 61.65h6.2v2.2h-6.2zM535.28 58.25h1.9v9h-1.9z"/>
<path d="M536.04 71.90h6.2v2.2h-6.2zM538.19 68.50h1.9v9h-1.9z"/>
<path d="M538.95 84.40h6.2v2.2h-6.2zM541.10 81.00h1.9v9h-1.9z"/>
<path d="M541.86 105.15h6.2v2.2h-6.2zM544.01 101.75h1.9v9h-1.9z"/>
<path d="M544.78 115.15h6.2v2.2h-6.2zM546.93 111.75h1.9v9h-1.9z"/>
<path d="M547.69 124.15h6.2v2.2h-6.2zM549.84 120.75h1.9v9h-1.9z"/>
<path d="M550.60 136.65h6.2v2.2h-6.2zM552.75 133.25h1.9v9h-1.9z"/>
<path d="M553.51 145.10h6.2v2.2h-6.2zM555.66 141.70h1.9v9h-1.9z"/>
<path d="M556.42 148.40h6.2v2.2h-6.2zM558.57 145.00h1.9v9h-1.9z"/>
<path d="M559.34 152.20h6.2v2.2h-6.2zM561.49 148.80h1.9v9h-1.9z"/>
<path d="M562.25 152.40h6.2v2.2h-6.2zM564.40 149.00h1.9v9h-1.9z"/>
<path d="M565.16 149.40h6.2v2.2h-6.2zM567.31 146.00h1.9v9h-1.9z"/>
<path d="M568.07 144.20h6.2v2.2h-6.2zM570.22 140.80h1.9v9h-1.9z"/>
<path d="M570.98 135.40h6.2v2.2h-6.2zM573.13 132.00h1.9v9h-1.9z"/>
<path d="M573.90 129.90h6.2v2.2h-6.2zM576.05 126.50h1.9v9h-1.9z"/>
<path d="M576.81 125.10h6.2v2.2h-6.2zM578.96 121.70h1.9v9h-1.9z"/>
<path d="M579.72 124.90h6.2v2.2h-6.2zM581.87 121.50h1.9v9h-1.9z"/>
<path d="M582.63 127.30h6.2v2.2h-6.2zM584.78 123.90h1.9v9h-1.9z"/>
<path d="M585.54 128.40h6.2v2.2h-6.2zM587.69 125.00h1.9v9h-1.9z"/>
<path d="M588.46 135.40h6.2v2.2h-6.2zM590.61 132.00h1.9v9h-1.9z"/>
<path d="M591.37 143.00h6.2v2.2h-6.2zM593.52 139.60h1.9v9h-1.9z"/>
<path d="M594.28 148.80h6.2v2.2h-6.2zM596.43 145.40h1.9v9h-1.9z"/>
<path d="M597.19 153.40h6.2v2.2h-6.2zM599.34 150.00h1.9v9h-1.9z"/>
<path d="M600.10 153.40h6.2v2.2h-6.2zM602.25 150.00h1.9v9h-1.9z"/>
<path d="M603.02 150.10h6.2v2.2h-6.2zM605.17 146.70h1.9v9h-1.9z"/>
<path d="M605.93 155.50h6.2v2.2h-6.2zM608.08 152.10h1.9v9h-1.9z"/>
<path d="M608.84 150.10h6.2v2.2h-6.2zM610.99 146.70h1.9v9h-1.9z"/>
<path d="M611.75 158.90h6.2v2.2h-6.2zM613.90 155.50h1.9v9h-1.9z"/>
</g>
</g></g></svg></body></html>
